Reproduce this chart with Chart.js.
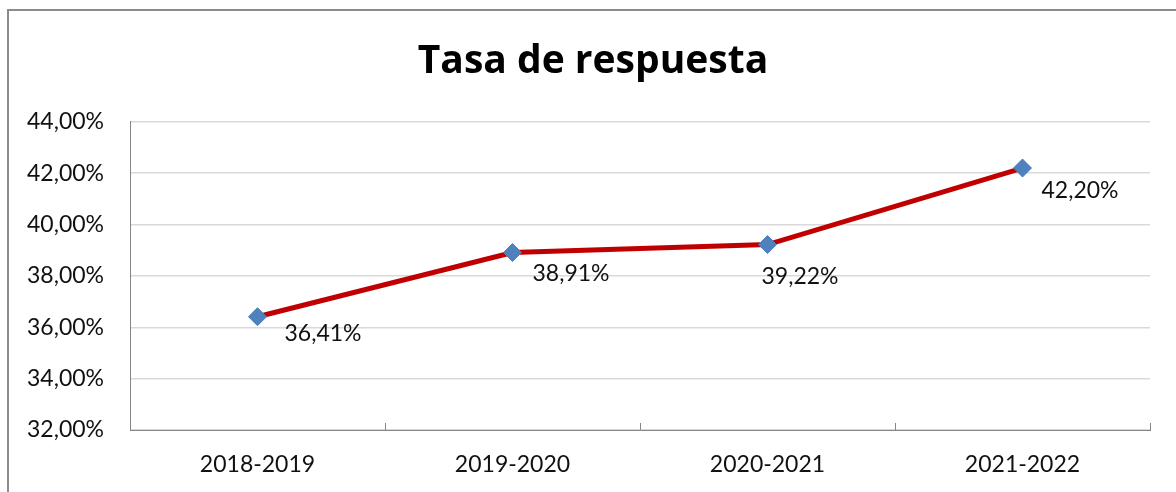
<!DOCTYPE html>
<html>
<head>
<meta charset="utf-8">
<title>Tasa de respuesta</title>
<script src="https://cdn.jsdelivr.net/npm/chart.js@4/dist/chart.umd.min.js"></script>
<style>
    html, body { margin: 0; padding: 0; background: #ffffff; }
    canvas { display: block; }
</style>
</head>
<body>
<canvas id="rateChart" width="1176" height="492"></canvas>
<script>
// datos del gráfico
const cursos = ['2018-2019', '2019-2020', '2020-2021', '2021-2022'];
const tasaRespuesta = [36.41, 38.91, 39.22, 42.20];
const ejeMin = 32;
const ejeMax = 44;
const ejePaso = 2;

const formatPct = (v) => v.toFixed(2).replace('.', ',') + '%';

// marco gris del gráfico (esquina superior izquierda)
const framePlugin = {
    id: 'frame',
    beforeDraw(chart) {
        const ctx = chart.ctx;
        ctx.save();
        ctx.strokeStyle = '#8c8c8c';
        ctx.lineWidth = 2;
        ctx.beginPath();
        ctx.moveTo(8, chart.height + 5);
        ctx.lineTo(8, 10);
        ctx.lineTo(chart.width + 5, 10);
        ctx.stroke();
        ctx.restore();
    }
};

// marcas del eje X entre categorías, hacia dentro
const innerTicksPlugin = {
    id: 'innerTicks',
    afterDraw(chart) {
        const xScale = chart.scales.x;
        const ctx = chart.ctx;
        const bottom = chart.chartArea.bottom;
        const half = (xScale.getPixelForValue(1) - xScale.getPixelForValue(0)) / 2;
        ctx.save();
        ctx.strokeStyle = '#868686';
        ctx.lineWidth = 1;
        cursos.forEach((c, i) => {
            const x = Math.round(xScale.getPixelForValue(i) + half) + 0.5;
            ctx.beginPath();
            ctx.moveTo(x, bottom);
            ctx.lineTo(x, bottom - 7);
            ctx.stroke();
        });
        ctx.restore();
    }
};

// etiquetas de datos a la derecha y debajo de cada punto
const dataLabelsPlugin = {
    id: 'dataLabels',
    afterDatasetsDraw(chart, args, opts) {
        const ctx = chart.ctx;
        const meta = chart.getDatasetMeta(0);
        ctx.save();
        ctx.font = '23px Lato';
        ctx.fillStyle = '#111111';
        ctx.textAlign = 'left';
        ctx.textBaseline = 'middle';
        meta.data.forEach((pt, i) => {
            const off = opts.offsets[i] || [20, 22];
            ctx.fillText(formatPct(tasaRespuesta[i]), pt.x + off[0], pt.y + off[1]);
        });
        ctx.restore();
    }
};

Chart.defaults.font.family = 'Lato';
Chart.defaults.color = '#111111';

new Chart(document.getElementById('rateChart'), {
    type: 'line',
    data: {
        labels: cursos,
        datasets: [{
            label: 'Tasa de respuesta',
            data: tasaRespuesta,
            borderColor: '#c00000',
            borderWidth: 5,
            tension: 0,
            pointStyle: 'rectRot',
            pointRadius: 9,
            pointHoverRadius: 9,
            pointBackgroundColor: '#4f81bd',
            pointBorderColor: '#4a7ebb',
            pointBorderWidth: 1
        }]
    },
    options: {
        responsive: false,
        animation: false,
        events: [],
        layout: { padding: { left: 10, right: 0, top: 0, bottom: 0 } },
        scales: {
            x: {
                offset: true,
                grid: { display: false, drawTicks: false },
                border: { display: true, color: '#868686', width: 1 },
                ticks: { padding: 21, font: { size: 23 }, color: '#111111' },
                afterFit(scale) { scale.height = 62; }
            },
            y: {
                min: ejeMin,
                max: ejeMax,
                grid: { color: '#d9d9d9', lineWidth: 1.5, drawTicks: false },
                border: { display: true, color: '#868686', width: 1 },
                ticks: {
                    stepSize: ejePaso,
                    padding: 26,
                    font: { size: 23 },
                    color: '#111111',
                    callback: (v) => formatPct(v)
                },
                afterFit(scale) { scale.width = 120; }
            },
            // eje vacío a la derecha: sólo reserva el margen
            margenDerecho: {
                type: 'linear',
                position: 'right',
                display: true,
                grid: { display: false, drawTicks: false },
                border: { display: false },
                ticks: { display: false },
                afterFit(scale) { scale.width = 26; }
            }
        },
        plugins: {
            legend: { display: false },
            tooltip: { enabled: false },
            title: {
                display: true,
                text: 'Tasa de respuesta',
                color: '#000000',
                font: { family: 'Open Sans', size: 39, weight: 'bold', lineHeight: 1.2 },
                padding: { top: 38, bottom: 37 }
            },
            dataLabels: {
                offsets: [[27, 17], [20, 21], [-6, 32], [19, 23]]
            }
        }
    },
    plugins: [framePlugin, innerTicksPlugin, dataLabelsPlugin]
});
</script>
</body>
</html>
